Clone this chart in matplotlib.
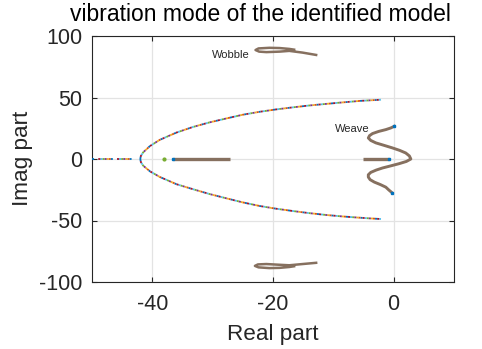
import matplotlib
matplotlib.use("Agg")
import matplotlib.pyplot as plt

plt.rcParams['font.family'] = ['Liberation Sans', 'DejaVu Sans']
plt.rcParams['lines.scale_dashes'] = False

# ---- data ----
# left real-axis part of the fast mode (dotted, multicolour)
real_left_x = [-50.0, -42.9]
real_left_y = [0.0, 0.0]
# upper / lower branch of the fast oscillatory mode
upper_x = [-42.0, -41.9, -41.5, -40.4, -38.8, -36.0, -33.3, -30.5, -27.7, -25.0,
           -22.2, -19.5, -16.7, -14.0, -11.2, -8.5, -5.7, -3.9, -2.1]
upper_y = [0.0, 2.5, 5.5, 10.5, 15.5, 21.5, 26.0, 29.8, 33.0, 36.0,
           38.4, 40.3, 42.0, 43.5, 44.8, 46.0, 47.2, 47.7, 48.2]
lower_x = [-42.0, -41.9, -41.5, -40.4, -38.8, -36.0, -33.3, -30.5, -27.7, -25.0,
           -22.2, -19.5, -16.7, -14.0, -11.2, -8.5, -5.7, -3.9, -2.1]
lower_y = [0.0, -2.5, -5.5, -10.0, -14.5, -20.5, -24.5, -28.5, -32.0, -35.3,
           -38.2, -40.4, -42.3, -44.0, -45.5, -46.7, -47.7, -48.3, -48.8]
# isolated real pole
lone_x = [-38.0]
lone_y = [0.0]
# real-axis segment (brown)
seg_x = [-36.6, -27.2]
seg_y = [0.0, 0.0]
# weave real segment + weave locus
weave_seg_x = [-5.15, -0.75]
weave_seg_y = [0.0, 0.0]
weave_x = [-0.3, -0.8, -1.3, -2.2, -3.2, -3.9, -4.2, -4.2, -3.8, -2.9, -1.85, -0.5,
           0.9, 2.1, 2.85, 2.6, 2.0, 1.0, -0.2, -1.6, -2.95, -3.8, -4.2, -4.0,
           -3.5, -2.5, -1.3, -0.5, 0.1]
weave_y = [-27.3, -25.2, -22.9, -20.8, -18.8, -16.8, -14.7, -12.8, -10.9, -9.0, -7.3, -5.6,
           -3.8, -2.0, 0.0, 2.5, 4.9, 7.0, 9.0, 11.1, 13.1, 15.1, 17.1, 19.0,
           20.7, 22.4, 23.9, 25.2, 26.6]
# wobble loci
wob_up_x = [-12.85, -15.1, -17.3, -18.9, -21.1, -22.3, -22.9, -22.4, -20.6, -18.9, -17.3, -16.5]
wob_up_y = [84.6, 86.5, 87.9, 87.3, 86.9, 87.3, 88.6, 89.9, 90.4, 90.2, 89.5, 88.9]
wob_lo_x = [-12.85, -15.1, -17.3, -18.9, -21.1, -22.5, -23.0, -22.4, -20.6, -18.9, -17.3, -16.5]
wob_lo_y = [-84.4, -85.4, -86.4, -86.0, -85.4, -85.7, -86.9, -88.1, -88.7, -88.5, -87.8, -87.2]

xticks = [-40, -20, 0]
yticks = [-100, -50, 0, 50, 100]
xlim = (-50, 10)
ylim = (-100, 100)

colors = ['#0072BD', '#D95319', '#EDB120', '#7E2F8E', '#77AC30', '#4DBEEE', '#A2142F']
brown = '#86705f'
axc = '#262626'

fig = plt.figure(figsize=(4.82, 3.49), dpi=100)
ax = fig.add_axes([92/482, 1-282/349, (454-92)/482, (282-36)/349])


def dotted_multi(x, y, unit=1.5, lw=1.3, gap=None):
    n = len(colors)
    off = (n - 1) * unit if gap is None else gap
    for i, c in enumerate(colors):
        ax.plot(x, y, color=c, lw=lw, solid_capstyle='butt',
                linestyle=(i * unit, (unit, off)), zorder=3)


dotted_multi(real_left_x, real_left_y, unit=1.5, gap=8 * 1.5)
dotted_multi(upper_x, upper_y)
dotted_multi(lower_x, lower_y)
ax.plot(lone_x, lone_y, 'o', ms=2, color=colors[4], zorder=3)

ax.plot(seg_x, seg_y, color=brown, lw=2.4, solid_capstyle='butt', zorder=4)
ax.plot(weave_seg_x, weave_seg_y, color=brown, lw=2.4, solid_capstyle='butt', zorder=4)
ax.plot(weave_x, weave_y, color=brown, lw=2.1, solid_joinstyle='round', zorder=4)
ax.plot(wob_up_x, wob_up_y, color=brown, lw=1.8, solid_joinstyle='round', zorder=4)
ax.plot(wob_lo_x, wob_lo_y, color=brown, lw=1.8, solid_joinstyle='round', zorder=4)
# end markers
ax.plot([weave_x[0], weave_x[-1], weave_seg_x[1], seg_x[0]],
        [weave_y[0], weave_y[-1], weave_seg_y[1], seg_y[0]],
        's', ms=1.8, color=colors[0], zorder=5)

ax.text(-23.9, 84.3, 'Wobble', fontsize=8, ha='right', va='center', color=axc)
ax.text(-9.7, 24.4, 'Weave', fontsize=8, ha='left', va='center', color=axc)

ax.set_xlim(*xlim)
ax.set_ylim(*ylim)
ax.set_xticks(xticks)
ax.set_yticks(yticks)
ax.set_xticklabels([str(t) for t in xticks])
ax.set_yticklabels([str(t) for t in yticks])
ax.grid(True, color='#e3e3e3', lw=0.9)
ax.set_axisbelow(True)
for s in ax.spines.values():
    s.set_color(axc)
    s.set_linewidth(0.8)
ax.tick_params(direction='in', length=3.5, width=0.8, color=axc, labelcolor=axc,
               labelsize=15.5, top=True, right=True)
ax.tick_params(axis='x', pad=9)
ax.tick_params(axis='y', pad=7)

fig.text(260/482, 1-21/349, 'vibration mode of the identified model', fontsize=16.5,
         ha='center', va='baseline', color='black')
fig.text(273/482, 1-340/349, 'Real part', fontsize=16.2, ha='center', va='baseline',
         color=axc)
fig.text(22.5/482, 1-158/349, 'Imag part', fontsize=16.2, ha='center', va='center',
         rotation=90, color=axc)

fig.savefig('out.png', dpi=100)
